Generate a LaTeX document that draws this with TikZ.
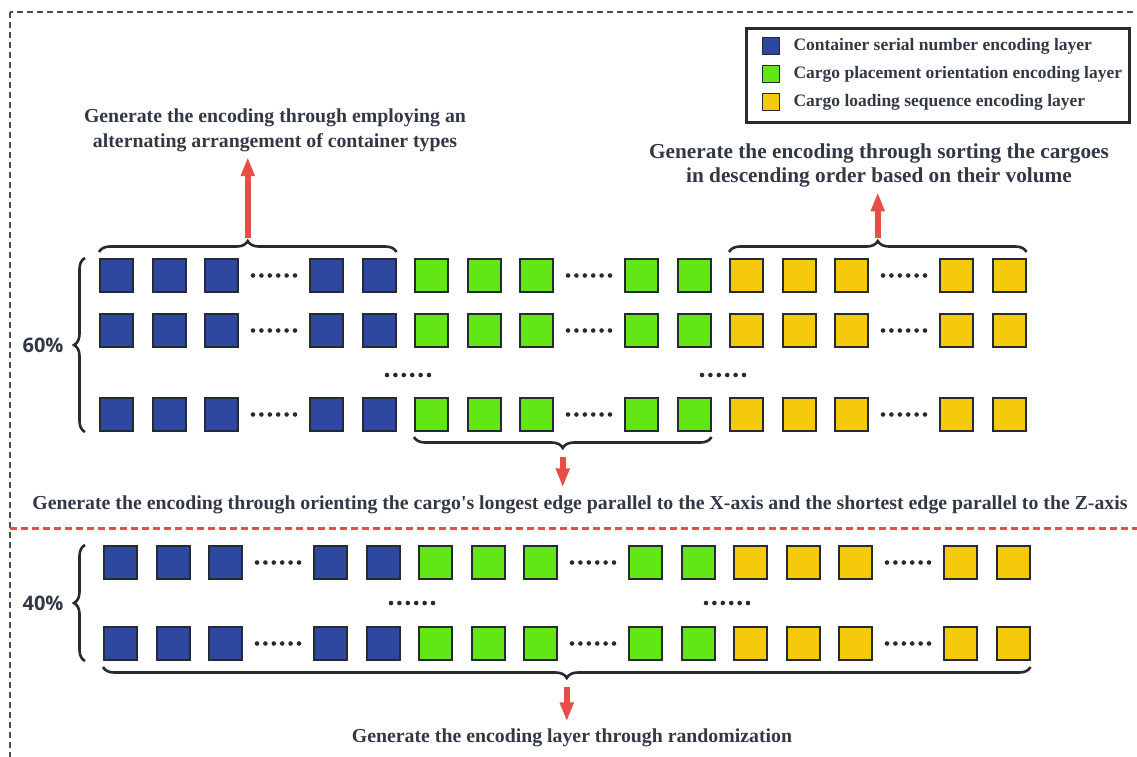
\documentclass[tikz,border=0pt]{standalone}
\usepackage{fontspec}
\setmainfont{Liberation Serif}
\newfontfamily\pctfont{Open Sans}
\usetikzlibrary{positioning,arrows.meta,decorations.pathreplacing}

\definecolor{cblue}{RGB}{46,72,160}
\definecolor{cgreen}{RGB}{98,230,20}
\definecolor{cyellow}{RGB}{245,202,10}
\definecolor{ink}{RGB}{50,56,68}
\definecolor{edge}{RGB}{38,42,50}
\definecolor{cred}{RGB}{232,78,72}

\begin{document}
\begin{tikzpicture}[x=1pt, y=-1pt, >={Triangle[length=19pt,width=13pt]}]
\tikzset{
  cell/.style={
    draw=edge, line width=2pt, rectangle,
    minimum size=33pt, inner sep=0pt
  },
  note/.style={
    text=ink, align=center, font=\fontsize{19.8}{25}\selectfont\bfseries
  },
  pct/.style={text=ink, font=\pctfont\fontsize{20}{24}\selectfont\bfseries},
  brc/.style={draw=edge, line width=2.6pt, decorate,
    decoration={brace, amplitude=11pt}},
  redarrow/.style={->, draw=cred, fill=cred, line width=5.5pt},
  legtext/.style={text=ink, inner sep=0pt, font=\fontsize{17.5}{20}\selectfont\bfseries}
}
\useasboundingbox (0,0) rectangle (1137,756);

% outer frame and split line
\draw[black!70, line width=2pt, dash pattern=on 6pt off 4pt] (10,12) rectangle (1150,758.5);
\coordinate (sepL) at (10,528);
\coordinate (sepR) at (1137,528);
\draw[cred, line width=3pt, dash pattern=on 7pt off 4pt] (sepL) -- (sepR);

% rows of cells
\foreach \r/\y/\xo in {1/275.5/116.5, 2/330.5/116.5, 3/414.5/116.5, 4/562.5/120.5, 5/643.5/120.5}{
  \foreach \g/\col in {0/cblue, 6/cgreen, 12/cyellow}{
    \foreach \j in {0,1,2,4,5}{
      \pgfmathtruncatemacro{\k}{\g+\j}
      \node[cell, fill=\col] (r\r-\k) at (\xo+52.5*\k, \y) {};
    }
    \pgfmathsetmacro{\dx}{\xo+52.5*(\g+3)}
    \foreach \d in {0,...,5} \fill[edge] (\dx-21+8.4*\d, \y) circle (2.3);
  }
}
% dots between rows
\foreach \dx/\y in {408/375, 723/375, 412/603, 727/603}
  \foreach \d in {0,...,5} \fill[edge] (\dx-21+8.4*\d, \y) circle (2.3);

% braces
\draw[brc] ([yshift=6pt]r1-0.north west) -- node[coordinate, yshift=14pt] (tipA) {} ([yshift=6pt]r1-5.north east);
\draw[brc] ([yshift=6pt]r1-12.north west) -- node[coordinate, yshift=14pt] (tipB) {} ([yshift=6pt]r1-17.north east);
\draw[brc] ([yshift=-5pt]r3-11.south east) -- node[coordinate, yshift=-20pt] (tipC) {} ([yshift=-5pt]r3-6.south west);
\draw[brc] ([yshift=-6pt]r5-17.south east) -- node[coordinate, yshift=-20pt] (tipD) {} ([yshift=-6pt]r5-0.south west);
\draw[brc] ([xshift=-14pt]r3-0.south west) -- node[coordinate] (tipE) {} ([xshift=-14pt]r1-0.north west);
\draw[brc] ([xshift=-18pt]r5-0.south west) -- node[coordinate] (tipF) {} ([xshift=-18pt]r4-0.north west);

% labels
\node[pct, left=18pt of tipE] (sixty) {60\%};
\node[pct, left=18pt of tipF] (forty) {40\%};

\node[note] (genA) at (275,130) {Generate the encoding through employing an\\alternating arrangement of container types};
\node[note, font=\fontsize{21.3}{24}\selectfont\bfseries] (genB) at (879,165) {Generate the encoding through sorting the cargoes\\in descending order based on their volume};
\node[note] (genC) at (580,505) {Generate the encoding through orienting the cargo\textquotesingle s longest edge parallel to the X-axis and the shortest edge parallel to the Z-axis};
\node[note] (genD) at (572,738) {Generate the encoding layer through randomization};

\draw[redarrow, shorten >=2pt] (tipA) -- (tipA |- genA.south);
\draw[redarrow, shorten >=2pt] (tipB) -- (tipB |- genB.south);
\draw[redarrow, shorten >=5pt] (tipC) -- (tipC |- genC.north);
\draw[redarrow, shorten >=4pt] (tipD) -- (tipD |- genD.north);

% legend
\node[draw=edge, line width=3pt, minimum width=383pt, minimum height=94pt] (legend) at (937.5,75) {};
\node[cell, line width=1.6pt, minimum size=17pt, fill=cblue] (keyA) at (771,46) {};
\node[cell, line width=1.6pt, minimum size=17pt, fill=cgreen] (keyB) at (771,74) {};
\node[cell, line width=1.6pt, minimum size=17pt, fill=cyellow] (keyC) at (771,102) {};
\node[legtext, right=13pt of keyA] (legA) {Container serial number encoding layer};
\node[legtext, right=13pt of keyB] (legB) {Cargo placement orientation encoding layer};
\node[legtext, right=13pt of keyC] (legC) {Cargo loading sequence encoding layer};
\end{tikzpicture}
\end{document}
